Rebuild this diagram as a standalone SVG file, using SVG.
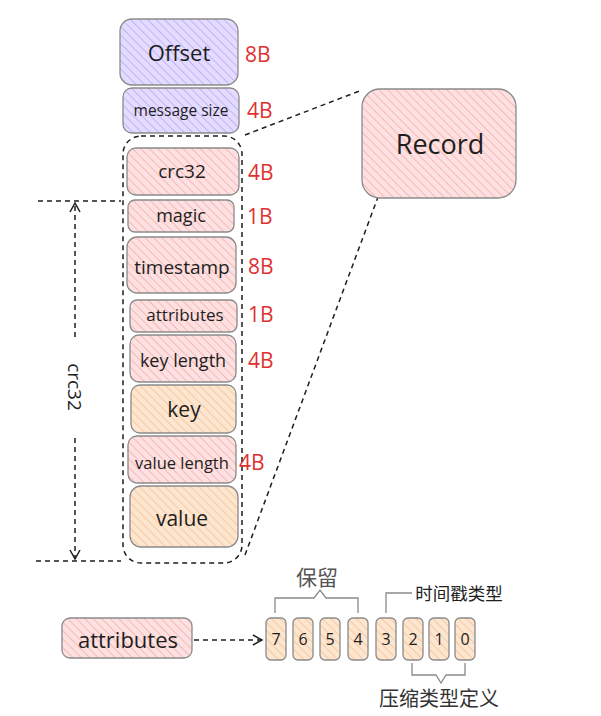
<svg xmlns="http://www.w3.org/2000/svg" width="601" height="716" viewBox="0 0 601 716">
<defs>
<pattern id="hP" width="6" height="6" patternUnits="userSpaceOnUse" patternTransform="rotate(-45)">
<rect width="6" height="6" fill="#e4dcff"/><line x1="0" y1="0" x2="0" y2="6" stroke="#c3b2f7" stroke-width="2"/></pattern>
<pattern id="hR" width="6" height="6" patternUnits="userSpaceOnUse" patternTransform="rotate(-45)">
<rect width="6" height="6" fill="#fde0e0"/><line x1="0" y1="0" x2="0" y2="6" stroke="#f7b8bb" stroke-width="2"/></pattern>
<pattern id="hO" width="6" height="6" patternUnits="userSpaceOnUse" patternTransform="rotate(-45)">
<rect width="6" height="6" fill="#fde6d0"/><line x1="0" y1="0" x2="0" y2="6" stroke="#f8c9a0" stroke-width="2"/></pattern>
<marker id="ah" markerWidth="12" markerHeight="12" refX="10" refY="6" orient="auto" markerUnits="userSpaceOnUse">
<path d="M1,1 L10,6 L1,11" fill="none" stroke="#1e1e1e" stroke-width="1.5"/></marker>
</defs>
<style>
.box{stroke:#8a8a8a;stroke-width:1.3}
.p{fill:url(#hP)} .r{fill:url(#hR)} .o{fill:url(#hO)}
.t{font-family:"Open Sans","DejaVu Sans",sans-serif;fill:#1e1e1e;text-anchor:middle;dominant-baseline:central}
.sz{font-family:"Open Sans","DejaVu Sans",sans-serif;fill:#e03131;font-size:21px;dominant-baseline:central}
.dash{fill:none;stroke:#1e1e1e;stroke-width:1.5;stroke-dasharray:5 4}
.br{fill:none;stroke:#8a8a8a;stroke-width:1.3}
.cn{font-family:"Noto Sans CJK SC",sans-serif;text-anchor:middle;dominant-baseline:central}
</style>
<rect width="601" height="716" fill="#ffffff"/>

<g id="connectors">
<rect x="123" y="136" width="119" height="427" rx="18" class="dash"/>
<line x1="245" y1="135" x2="362" y2="90" class="dash"/>
<line x1="245" y1="555" x2="378" y2="197" class="dash"/>
<line x1="38" y1="201" x2="121" y2="201" class="dash"/>
<line x1="36" y1="561" x2="121" y2="561" class="dash"/>
<line x1="75" y1="337" x2="75" y2="203" class="dash" marker-end="url(#ah)"/>
<line x1="75" y1="438" x2="75" y2="559" class="dash" marker-end="url(#ah)"/>
<line x1="194" y1="640" x2="262" y2="640" class="dash" marker-end="url(#ah)"/>
<path d="M275,613 V598 H314 L320,590 L326,598 H358 V613" class="br"/>
<path d="M386,613 V593 H412" class="br"/>
<path d="M412,663 V675 H436 L441,683 L446,675 H465 V663" class="br"/>
</g>

<text class="t" transform="translate(75,387) rotate(90)" font-size="19">crc32</text>

<g id="offset"><rect x="120" y="19" width="118" height="66" rx="12" class="box p"/><text class="t" x="179" y="52" font-size="22">Offset</text><text class="sz" x="245" y="54">8B</text></g>
<g id="msgsize"><rect x="123" y="88" width="116" height="45" rx="9" class="box p"/><text class="t" x="181" y="110" font-size="15.5">message size</text><text class="sz" x="247" y="110">4B</text></g>
<g id="crc32"><rect x="127" y="148" width="112" height="47" rx="9" class="box r"/><text class="t" x="182" y="171" font-size="19">crc32</text><text class="sz" x="248" y="172">4B</text></g>
<g id="magic"><rect x="128" y="200" width="106" height="32" rx="7" class="box r"/><text class="t" x="181" y="215" font-size="18">magic</text><text class="sz" x="247" y="216">1B</text></g>
<g id="timestamp"><rect x="127" y="237" width="109" height="56" rx="10" class="box r"/><text class="t" x="182" y="267" font-size="19">timestamp</text><text class="sz" x="248" y="266">8B</text></g>
<g id="attributes"><rect x="130" y="300" width="107" height="32" rx="7" class="box r"/><text class="t" x="185" y="314" font-size="17">attributes</text><text class="sz" x="248" y="314">1B</text></g>
<g id="keylength"><rect x="130" y="335" width="106" height="47" rx="9" class="box r"/><text class="t" x="183" y="360" font-size="18">key length</text><text class="sz" x="248" y="360">4B</text></g>
<g id="key"><rect x="131" y="385" width="105" height="48" rx="9" class="box o"/><text class="t" x="184" y="409" font-size="21">key</text></g>
<g id="valuelength"><rect x="128" y="436" width="108" height="47" rx="9" class="box r"/><text class="t" x="182" y="462" font-size="16.5">value length</text><text class="sz" x="239" y="462">4B</text></g>
<g id="value"><rect x="130" y="486" width="108" height="61" rx="11" class="box o"/><text class="t" x="182" y="518" font-size="21">value</text></g>

<g id="record"><rect x="362" y="89" width="154" height="109" rx="18" class="box r"/><text class="t" x="440" y="143" font-size="27">Record</text></g>

<g id="attributes2"><rect x="62" y="618" width="130" height="40" rx="8" class="box r"/><text class="t" x="128" y="639" font-size="22">attributes</text></g>

<g id="bits">
<rect x="266" y="618" width="20" height="42" rx="5" class="box o"/><text class="t" x="276" y="639" font-size="16">7</text>
<rect x="293" y="618" width="20" height="42" rx="5" class="box o"/><text class="t" x="303" y="639" font-size="16">6</text>
<rect x="320" y="618" width="20" height="42" rx="5" class="box o"/><text class="t" x="330" y="639" font-size="16">5</text>
<rect x="348" y="618" width="20" height="42" rx="5" class="box o"/><text class="t" x="358" y="639" font-size="16">4</text>
<rect x="376" y="618" width="20" height="42" rx="5" class="box o"/><text class="t" x="386" y="639" font-size="16">3</text>
<rect x="403" y="618" width="20" height="42" rx="5" class="box o"/><text class="t" x="413" y="639" font-size="16">2</text>
<rect x="429" y="618" width="20" height="42" rx="5" class="box o"/><text class="t" x="439" y="639" font-size="16">1</text>
<rect x="455" y="618" width="20" height="42" rx="5" class="box o"/><text class="t" x="465" y="639" font-size="16">0</text>
</g>

<text class="cn" x="317" y="576" font-size="21" fill="#555555">保留</text>
<text class="cn" x="459" y="592" font-size="17.5" fill="#1e1e1e">时间戳类型</text>
<text class="cn" x="439" y="697" font-size="20" fill="#333333">压缩类型定义</text>
</svg>
